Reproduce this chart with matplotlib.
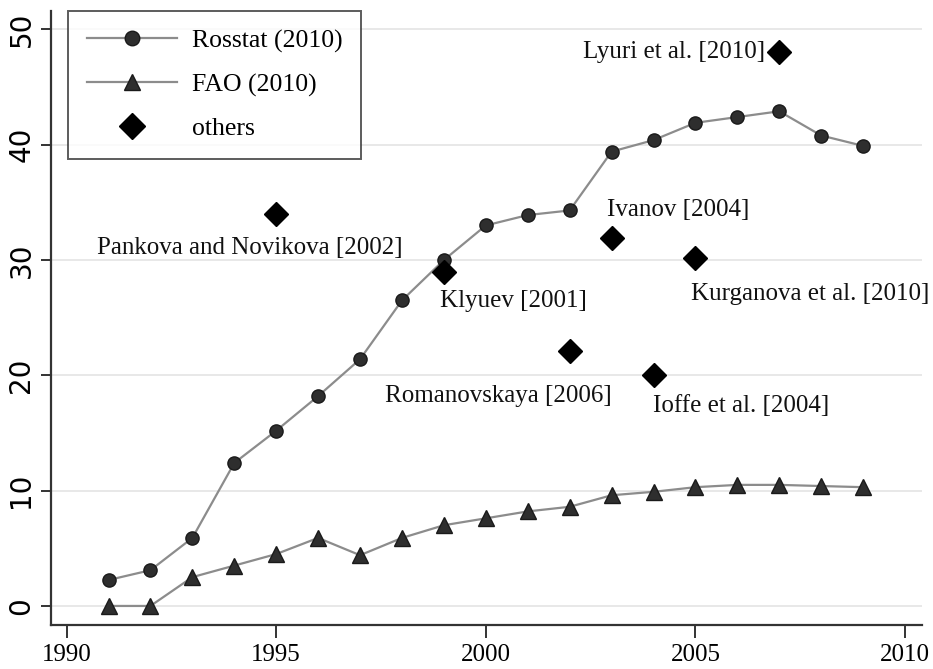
import matplotlib
matplotlib.use("Agg")
import matplotlib.pyplot as plt

years = list(range(1991, 2010))
rosstat = [2.25, 3.1, 5.9, 12.4, 15.2, 18.2, 21.4, 26.5, 30.0, 33.0, 33.9, 34.3,
           39.4, 40.4, 41.9, 42.4, 42.9, 40.8, 39.9]
fao = [0.0, 0.0, 2.5, 3.5, 4.5, 5.9, 4.4, 5.9, 7.0, 7.6, 8.2, 8.6, 9.6, 9.9,
       10.3, 10.5, 10.5, 10.4, 10.3]

others_labels = ["Pankova and Novikova [2002]", "Klyuev [2001]", "Lyuri et al. [2010]",
                 "Ivanov [2004]", "Kurganova et al. [2010]", "Romanovskaya [2006]",
                 "Ioffe et al. [2004]"]
others_x = [1995, 1999, 2007, 2003, 2005, 2002, 2004]
others_y = [34.0, 29.0, 48.0, 31.9, 30.2, 22.1, 20.0]
# label offsets (pixels) and alignment
label_off = [(-26, -34, "center"), (-4, -29, "left"), (-14, 0, "right"),
             (-5, 28, "left"), (-4, -36, "left"), (42, -45, "right"), (-1, -31, "left")]

xticks = [1990, 1995, 2000, 2005, 2010]
yticks = [0, 10, 20, 30, 40, 50]

serif = ["Liberation Serif", "DejaVu Serif"]
sans = ["DejaVu Sans"]

fig = plt.figure(figsize=(9.33, 6.69), dpi=100)
ax = fig.add_axes([0.0543, 0.0658, 0.988 - 0.0543, 0.9836 - 0.0658])

line_col = "#8c8c8c"
mk_col = "#2e2e2e"

for yv in yticks:
    ax.axhline(yv, color="#e6e6e6", lw=1.3, zorder=0)

ax.plot(years, rosstat, color=line_col, lw=1.6, marker="o", ms=9.5,
        mfc=mk_col, mec="#1a1a1a", mew=1.0, label="Rosstat (2010)", zorder=3)
ax.plot(years, fao, color=line_col, lw=1.6, marker="^", ms=11,
        mfc=mk_col, mec="#1a1a1a", mew=1.0, label="FAO (2010)", zorder=3)
ax.plot(others_x, others_y, ls="none", marker="D", ms=12, mfc="black",
        mec="black", label="others", zorder=4)

for lab, x, y, (dx, dy, ha) in zip(others_labels, others_x, others_y, label_off):
    ax.annotate(lab, (x, y), xytext=(dx * 0.72, dy * 0.72), textcoords="offset points",
                ha=ha, va="center", fontsize=18, family=serif, color="#111111")

ax.set_xlim(1989.62, 2010.4)
ax.set_ylim(-1.65, 51.6)
ax.set_xticks(xticks)
ax.set_yticks(yticks)
ax.set_xticklabels([str(v) for v in xticks], fontsize=18, family=serif)
ax.set_yticklabels([str(v) for v in yticks], fontsize=20, family=sans,
                   rotation=90, va="center")

for s in ["top", "right"]:
    ax.spines[s].set_visible(False)
for s in ["left", "bottom"]:
    ax.spines[s].set_linewidth(1.6)
    ax.spines[s].set_color("#333333")
ax.tick_params(axis="x", length=9, width=1.4, color="#333333", pad=5)
ax.tick_params(axis="y", length=7, width=1.4, color="#333333", pad=4)

leg = ax.legend(loc="upper left", bbox_to_anchor=(0.02, 1.0), prop={"family": serif, "size": 18.5},
                frameon=True, fancybox=False, edgecolor="#333333", handlelength=3.5,
                borderpad=0.72, labelspacing=0.8, handletextpad=0.6, borderaxespad=0.0,
                markerscale=1.1)
leg.get_frame().set_linewidth(1.4)

fig.savefig("out.png", dpi=100, facecolor="white")
